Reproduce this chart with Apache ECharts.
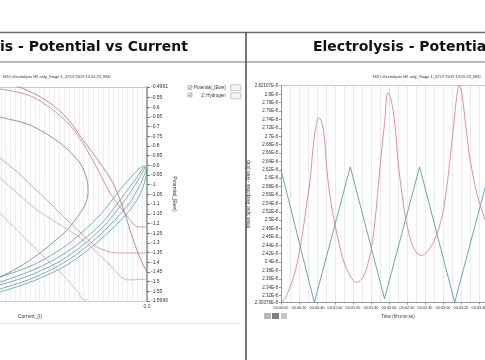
<!DOCTYPE html>
<html><head><meta charset="utf-8">
<script src="https://cdn.jsdelivr.net/npm/echarts@6/dist/echarts.min.js"></script>
<style>html,body{margin:0;padding:0;background:#fff}#c{width:485px;height:360px}</style>
</head><body><div id="c"></div>
<script>
// ---------- Left chart: Potential vs Current ----------
const leftYTicks = [-0.4961,-0.55,-0.6,-0.65,-0.7,-0.75,-0.8,-0.85,-0.9,-0.95,-1,-1.05,-1.1,-1.15,-1.2,-1.25,-1.3,-1.35,-1.4,-1.45,-1.5,-1.55,-1.5996];
const potentialCurve1 = [[-2.0,-1.56],[-1.508,-1.476],[-1.169,-1.414],[-0.821,-1.311],[-0.482,-1.156],[-0.277,-1.027],[-0.144,-0.950],[-0.072,-0.914],[-0.021,-0.903],[0,-0.93]];
const potentialCurve2 = [[-2.0,-1.58],[-1.508,-1.502],[-1.169,-1.440],[-0.821,-1.347],[-0.482,-1.208],[-0.277,-1.079],[-0.123,-0.976],[-0.021,-0.909],[0,-0.95]];
const potentialCurve3 = [[-2.0,-1.59],[-1.508,-1.517],[-1.169,-1.461],[-0.821,-1.373],[-0.482,-1.234],[-0.226,-1.079],[-0.092,-0.976],[-0.021,-0.914]];
const potentialCurve4 = [[-2.0,-1.61],[-1.508,-1.538],[-1.169,-1.481],[-0.821,-1.393],[-0.482,-1.259],[-0.195,-1.105],[-0.072,-1.002],[-0.010,-0.924]];
const potentialCurve5 = [[-2.0,-1.62],[-1.508,-1.553],[-1.169,-1.497],[-0.821,-1.414],[-0.482,-1.285],[-0.174,-1.130],[-0.051,-1.027],[0,-0.934]];
const potentialLoop = [[-2.0,-0.585],[-1.508,-0.651],[-1.2,-0.692],[-0.892,-0.785],[-0.687,-0.888],[-0.615,-0.976],[-0.605,-1.038],[-0.636,-1.105],[-0.738,-1.182],[-0.821,-1.234],[-0.995,-1.311],[-1.169,-1.378],[-1.333,-1.430],[-1.508,-1.476],[-2.0,-1.569]];
const hydrogenCurve1 = [[-2.0,-0.43],[-1.508,-0.476],[-1.374,-0.486],[-1.169,-0.527],[-0.995,-0.579],[-0.821,-0.656],[-0.656,-0.769],[-0.482,-0.888],[-0.349,-0.991],[-0.256,-1.105],[-0.174,-1.234],[-0.072,-1.378],[0,-1.45]];
const hydrogenCurve2 = [[-2.0,-0.47],[-1.508,-0.506],[-1.169,-0.548],[-0.821,-0.677],[-0.615,-0.821],[-0.379,-1.043],[-0.308,-1.094],[-0.195,-1.167],[-0.092,-1.218],[0,-1.218]];
const hydrogenCurve3 = [[-2.0,-0.656],[-1.508,-0.862],[-1.333,-0.934],[-1.169,-1.012],[-0.995,-1.094],[-0.821,-1.182],[-0.656,-1.259],[-0.513,-1.321],[-0.379,-1.347],[-0.308,-1.352],[0,-1.352]];
const hydrogenCurve4 = [[-2.0,-0.749],[-1.508,-0.965],[-1.333,-1.043],[-1.128,-1.130],[-0.923,-1.197],[-0.656,-1.285],[-0.379,-1.414],[-0.205,-1.491],[0,-1.486]];
const hydrogenCurve5 = [[-2.0,-0.898],[-1.508,-1.146],[-1.303,-1.249],[-1.097,-1.352],[-0.862,-1.466],[-0.708,-1.553],[-0.646,-1.595],[-0.605,-1.589]];

// ---------- Right chart: response vs time (values in units of 1E-8) ----------
const rightYTicks = [2.30378,2.32,2.34,2.36,2.38,2.4,2.42,2.44,2.46,2.48,2.5,2.52,2.54,2.56,2.58,2.6,2.62,2.64,2.66,2.68,2.7,2.72,2.74,2.76,2.78,2.8,2.82107];
const potentialTimeSec = [0,37,77,115,154,193,232];
const potentialRawE8 = [2.62,2.304,2.627,2.313,2.627,2.304,2.62];
const hydrogenTimeSec = [0,4,8,12,16,20,24,28,32,36,39,42,45,48,51,55,60,65,70,75,80,84,88,93,97,101,105,108,112,115,119,123,127,130,134,138,142,146,151,156,161,166,171,176,180,184,188,192,195,198,201,205,209,213,218,223,228,234,240];
const hydrogenRawE8 = [2.305,2.312,2.33,2.352,2.38,2.42,2.47,2.53,2.59,2.68,2.725,2.744,2.735,2.70,2.62,2.55,2.49,2.44,2.40,2.375,2.357,2.352,2.356,2.372,2.40,2.44,2.51,2.58,2.67,2.73,2.804,2.78,2.72,2.64,2.57,2.51,2.47,2.44,2.422,2.416,2.422,2.435,2.455,2.485,2.52,2.575,2.65,2.73,2.79,2.821,2.80,2.73,2.66,2.61,2.56,2.525,2.495,2.475,2.46];

const runLabel = "H2O electrolysis H2 only_Stage 1_22'07'2019 14:55:23_MID";
const FONT = '"Liberation Sans", Arial, sans-serif';
const TITLE_FONT = 'bold 14px "DejaVu Sans", sans-serif';
const TEAL = '#5c9ca8';

function hms(s){ s=Math.round(s); const p=n=>String(n).padStart(2,'0'); return p(Math.floor(s/3600))+':'+p(Math.floor(s%3600/60))+':'+p(s%60); }
function leftLine(name, data, color){
  return {type:'line', name, data, xAxisIndex:0, yAxisIndex:0, showSymbol:false, smooth:0.3,
    lineStyle:{width:0.8, color}, itemStyle:{color}, silent:true, clip:true};
}

const series = [
  leftLine('Potential_(Ewe)', potentialCurve1, TEAL),
  leftLine('Potential_(Ewe)', potentialCurve2, TEAL),
  leftLine('Potential_(Ewe)', potentialCurve3, TEAL),
  leftLine('Potential_(Ewe)', potentialCurve4, TEAL),
  leftLine('Potential_(Ewe)', potentialCurve5, TEAL),
  leftLine('Potential_(Ewe)', potentialLoop, '#6b8290'),
  leftLine('2: Hydrogen', hydrogenCurve1, '#b96a78'),
  leftLine('2: Hydrogen', hydrogenCurve2, '#c47c88'),
  leftLine('2: Hydrogen', hydrogenCurve3, '#cd8a94'),
  leftLine('2: Hydrogen', hydrogenCurve4, '#d69ea6'),
  leftLine('2: Hydrogen', hydrogenCurve5, '#d9a5ad'),
  {type:'line', name:'Potential vs time', xAxisIndex:2, yAxisIndex:1, showSymbol:false, smooth:false,
    data: potentialTimeSec.map((t,i)=>[t, potentialRawE8[i]]), lineStyle:{width:0.9, color:TEAL}, itemStyle:{color:TEAL}, silent:true},
  {type:'line', name:'Hydrogen vs time', xAxisIndex:2, yAxisIndex:1, showSymbol:false, smooth:0.4,
    data: hydrogenTimeSec.map((t,i)=>[t, hydrogenRawE8[i]]), lineStyle:{width:0.9, color:'#d5848d'}, itemStyle:{color:'#d5848d'}, silent:true}
];

const chart = echarts.init(document.getElementById('c'));
chart.setOption({
  animation:false,
  backgroundColor:'#ffffff',
  textStyle:{fontFamily:FONT},
  grid:[{left:-87, top:87, width:234, height:214, containLabel:false, outerBoundsMode:'none'},
        {left:281, top:85.5, width:234, height:217, containLabel:false, outerBoundsMode:'none'}],
  xAxis:[
    {gridIndex:0, type:'value', min:-2.4, max:0, interval:0.05,
      axisLine:{show:true, onZero:false, lineStyle:{color:'#d0d0d0'}}, axisTick:{show:false},
      axisLabel:{fontSize:5, color:'#444', margin:3, showMinLabel:false, formatter:v=>Math.abs(v)<1e-6?'0.0':''},
      splitLine:{show:true, lineStyle:{color:'#e3e3e3', width:0.6}},
      name:'Current_(I)', nameLocation:'middle', nameGap:11, nameTextStyle:{fontSize:5, color:'#333'}},
    {gridIndex:0, type:'value', position:'top', min:-2.4, max:0,
      axisLine:{show:true, onZero:false, lineStyle:{color:'#c8c8c8'}}, axisTick:{show:false}, axisLabel:{show:false}, splitLine:{show:false}},
    {gridIndex:1, type:'value', min:0, max:260, interval:20,
      axisLine:{show:true, onZero:false, lineStyle:{color:'#999'}}, axisTick:{show:true, length:2, lineStyle:{color:'#999'}},
      axisLabel:{fontSize:3.8, color:'#333', margin:3, formatter:hms, hideOverlap:false},
      splitLine:{show:true, lineStyle:{color:'#dcdcdc', width:0.6}},
      minorTick:{show:false, splitNumber:2}, minorSplitLine:{show:true, lineStyle:{color:'#dcdcdc', width:0.6}},
      name:'Time (hh:mm:ss)', nameLocation:'middle', nameGap:10, nameTextStyle:{fontSize:4.5, color:'#333'}},
    {gridIndex:1, type:'value', position:'top', min:0, max:260,
      axisLine:{show:true, onZero:false, lineStyle:{color:'#c8c8c8'}}, axisTick:{show:false}, axisLabel:{show:false}, splitLine:{show:false}}
  ],
  yAxis:[
    {gridIndex:0, type:'value', position:'right', min:-1.5996, max:-0.4961,
      axisLine:{show:true, onZero:false, lineStyle:{color:'#a8a8a8', width:2}},
      axisTick:{show:true, length:3, customValues:leftYTicks, lineStyle:{color:'#777'}},
      axisLabel:{customValues:leftYTicks, fontSize:5, color:'#333', margin:4, formatter:v=>String(v)},
      splitLine:{show:false},
      name:'Potential_(Ewe)', nameLocation:'middle', nameRotate:-90, nameGap:20, nameTextStyle:{fontSize:5, color:'#333'}},
    {gridIndex:1, type:'value', min:2.30378, max:2.82107,
      axisLine:{show:true, onZero:false, lineStyle:{color:'#999'}},
      axisTick:{show:true, length:2, customValues:rightYTicks, lineStyle:{color:'#999'}},
      axisLabel:{customValues:rightYTicks, fontSize:4.5, color:'#333', margin:3, formatter:v=>String(+v.toFixed(5))+'E-8'},
      splitLine:{show:false},
      name:'Mass Spec Response - Raw (Ion)', nameLocation:'middle', nameRotate:90, nameGap:27, nameTextStyle:{fontSize:4.5, color:'#333'}}
  ],
  legend:{data:['Potential_(Ewe)','2: Hydrogen'], orient:'vertical', left:194, top:84.5, itemGap:1.5,
    itemWidth:10, itemHeight:6, align:'right', icon:'rect', padding:0, selectedMode:false,
    textStyle:{fontSize:4.5, color:'#333', width:31},
    itemStyle:{color:'#f4f4f4', borderColor:'#9a9a9a', borderWidth:0.5}},
  graphic:[
    {type:'line', shape:{x1:0,y1:32.5,x2:485,y2:32.5}, style:{stroke:'#6b6b6b', lineWidth:1.5}},
    {type:'line', shape:{x1:0,y1:62,x2:485,y2:62}, style:{stroke:'#7a7a7a', lineWidth:1.2}},
    {type:'line', shape:{x1:246,y1:32,x2:246,y2:360}, style:{stroke:'#4a4a4a', lineWidth:1.5}},
    {type:'line', shape:{x1:0,y1:323.5,x2:241,y2:323.5}, style:{stroke:'#e6e6e6', lineWidth:1}},
    {type:'text', x:0, y:47, style:{text:'is - Potential vs Current', font:TITLE_FONT, fill:'#111', verticalAlign:'middle'}},
    {type:'text', x:313, y:47, style:{text:'Electrolysis - Potential', font:TITLE_FONT, fill:'#111', verticalAlign:'middle'}},
    {type:'text', x:3, y:77, style:{text:runLabel, font:'4px '+FONT, fill:'#333', verticalAlign:'middle'}},
    {type:'text', x:373, y:77, style:{text:runLabel, font:'4px '+FONT, fill:'#333', verticalAlign:'middle'}},
    {type:'rect', shape:{x:188,y:85.5,width:4,height:4}, style:{fill:'#fff', stroke:'#777', lineWidth:0.5}},
    {type:'polyline', shape:{points:[[188.8,87.6],[189.8,88.7],[191.3,86.3]]}, style:{stroke:'#444', lineWidth:0.6, fill:null}},
    {type:'rect', shape:{x:188,y:93,width:4,height:4}, style:{fill:'#fff', stroke:'#777', lineWidth:0.5}},
    {type:'polyline', shape:{points:[[188.8,95.1],[189.8,96.2],[191.3,93.8]]}, style:{stroke:'#444', lineWidth:0.6, fill:null}},
    {type:'rect', shape:{x:264,y:313,width:7,height:6}, style:{fill:'#b8b8b8'}},
    {type:'rect', shape:{x:272,y:313,width:7,height:6}, style:{fill:'#7f7f7f'}},
    {type:'rect', shape:{x:281,y:313,width:6,height:6}, style:{fill:'#c6c6c6'}}
  ],
  series
});
</script></body></html>
